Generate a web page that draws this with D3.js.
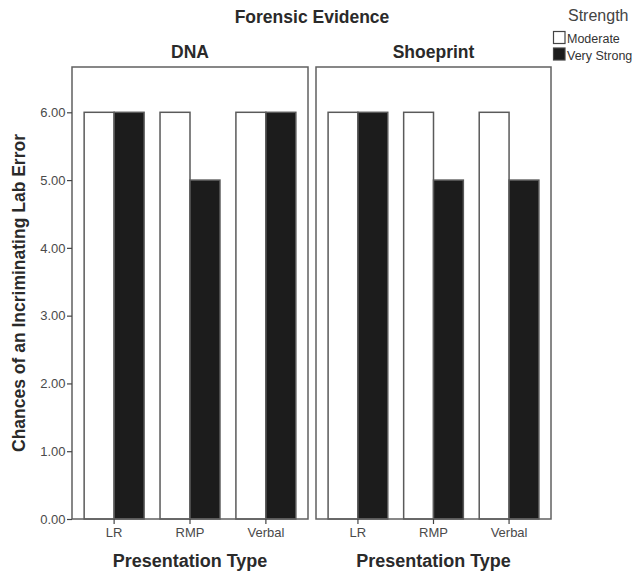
<!DOCTYPE html>
<html><head><meta charset="utf-8">
<script src="https://cdn.jsdelivr.net/npm/d3@7"></script>
<style>
html,body{margin:0;padding:0;background:#fff;}
svg{display:block;font-family:"Liberation Sans",Arial,sans-serif;}
</style></head>
<body><svg id="c" width="638" height="575"></svg>
<script>
const panels = ["DNA", "Shoeprint"];
const categories = ["LR", "RMP", "Verbal"];
const strengths = ["Moderate", "Very Strong"];
const moderateValues = [[6, 6, 6], [6, 6, 6]];
const veryStrongValues = [[6, 5, 6], [6, 5, 5]];
const yTicks = [0, 1, 2, 3, 4, 5, 6];

const svg = d3.select("#c");
const fills = {"Moderate": "#ffffff", "Very Strong": "#1c1c1c"};
const panelX = [[72, 308], [316, 551]];
const panelTop = 67, panelBottom = 519;

const y = d3.scaleLinear().domain([0, 6]).range([519, 112.3]);

svg.append("text").attr("x", 312).attr("y", 22.5).attr("text-anchor", "middle")
  .attr("font-size", 17.5).attr("font-weight", "bold").attr("fill", "#2a2a2a").text("Forensic Evidence");

panels.forEach((p, pi) => {
  const [x0, x1] = panelX[pi];
  const xb = d3.scaleBand().domain(categories).range([x0, x1]).paddingInner(0.21).paddingOuter(0.16);
  const xs = d3.scaleBand().domain(strengths).range([0, xb.bandwidth()]);
  const g = svg.append("g");
  const cx = (x0 + x1) / 2;
  g.append("text").attr("x", cx).attr("y", 57.5).attr("text-anchor", "middle")
    .attr("font-size", 17.5).attr("font-weight", "bold").attr("fill", "#2a2a2a").text(p);

  categories.forEach((c, ci) => {
    const vals = [moderateValues[pi][ci], veryStrongValues[pi][ci]];
    strengths.forEach((s, si) => {
      g.append("rect")
        .attr("x", xb(c) + xs(s)).attr("y", y(vals[si]))
        .attr("width", xs.bandwidth()).attr("height", y(0) - y(vals[si]))
        .attr("fill", fills[s]).attr("stroke", "#5a5a5a").attr("stroke-width", 1.5);
    });
  });

  g.append("rect").attr("x", x0).attr("y", panelTop).attr("width", x1 - x0).attr("height", panelBottom - panelTop)
    .attr("fill", "none").attr("stroke", "#606060").attr("stroke-width", 1.5);

  const xAxis = g.append("g").attr("transform", `translate(0,${panelBottom})`)
    .call(d3.axisBottom(xb).tickSize(5).tickSizeOuter(0).tickPadding(4));
  xAxis.select(".domain").remove();
  xAxis.selectAll("line").attr("stroke", "#444").attr("stroke-width", 1.2);
  xAxis.selectAll("text").attr("font-size", 13).attr("fill", "#4a4a4a");

  g.append("text").attr("x", cx).attr("y", 567).attr("text-anchor", "middle")
    .attr("font-size", 18).attr("font-weight", "bold").attr("fill", "#2a2a2a").text("Presentation Type");
});

const yAxis = svg.append("g").attr("transform", `translate(72,0)`)
  .call(d3.axisLeft(y).tickValues(yTicks).tickFormat(d3.format(".2f")).tickSize(5).tickSizeOuter(0).tickPadding(1.5));
yAxis.select(".domain").remove();
yAxis.selectAll("line").attr("stroke", "#444").attr("stroke-width", 1.2);
yAxis.selectAll("text").attr("font-size", 13).attr("fill", "#4a4a4a");

svg.append("text").attr("transform", "translate(25,293) rotate(-90)").attr("text-anchor", "middle")
  .attr("font-size", 17.5).attr("font-weight", "bold").attr("fill", "#2a2a2a").text("Chances of an Incriminating Lab Error");

// legend
svg.append("text").attr("x", 568).attr("y", 21).attr("font-size", 16).attr("fill", "#444").text("Strength");
strengths.forEach((s, i) => {
  const yy = 31.5 + i * 16.5;
  svg.append("rect").attr("x", 553.5).attr("y", yy).attr("width", 11.5).attr("height", 12)
    .attr("fill", fills[s]).attr("stroke", "#444").attr("stroke-width", 1.2);
  svg.append("text").attr("x", 567).attr("y", yy + 11.5).attr("font-size", 12.5).attr("fill", "#333").text(s);
});
</script></body></html>
